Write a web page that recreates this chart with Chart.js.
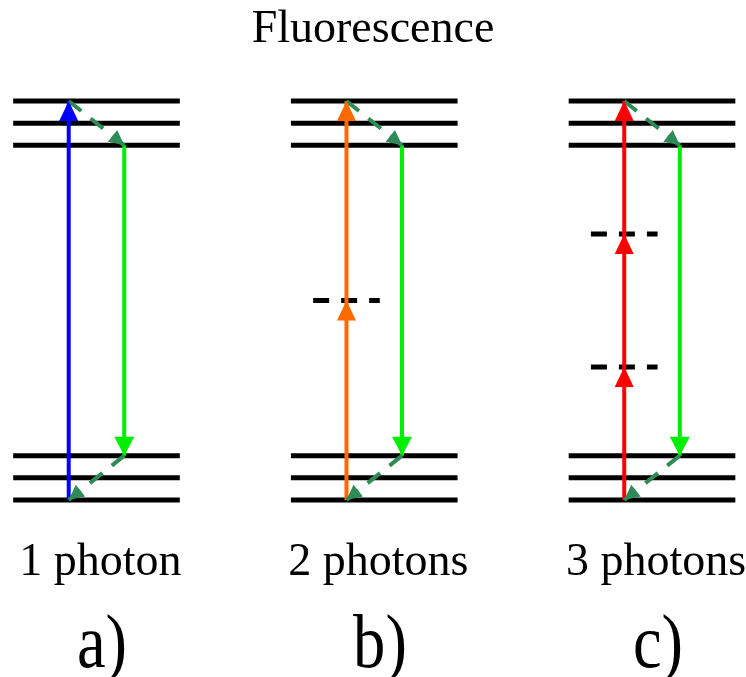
<!DOCTYPE html>
<html>
<head>
<meta charset="utf-8">
<title>Fluorescence</title>
<script src="https://cdn.jsdelivr.net/npm/chart.js@4.4.1/dist/chart.umd.min.js"></script>
<style>
  html, body { margin: 0; padding: 0; background: #fff; overflow: hidden; }
  #wrap { position: relative; width: 746px; height: 677px; overflow: hidden; }
  canvas { display: block; }
  .caption {
    position: absolute;
    margin: 0;
    line-height: 1;
    white-space: nowrap;
    color: #000;
    font-family: "Liberation Serif", serif;
  }
</style>
</head>
<body>
<div id="wrap">
  <canvas id="diagram" width="746" height="677"></canvas>
</div>
<script>
// Energies in units of the vibrational spacing
const heading = 'Fluorescence';
const panelNames = ['a)', 'b)', 'c)'];
const photonLabels = ['1 photon', '2 photons', '3 photons'];
const groundLevels = [0, 1, 2];
const excitedLevels = [16, 17, 18];
const virtualLevels = [[], [9], [6, 12]];
const pumpColors = ['#0000ff', '#ff6a00', '#ff0000'];

// layout along x, in panel units (panel i is centred on x = i)
const levelHalf = 0.3;
const virtualHalf = 0.12;
const pumpOffset = -0.1;
const emitOffset = 0.1;

const topLevel = excitedLevels[excitedLevels.length - 1];
const lowestExcited = excitedLevels[0];
const highestGround = groundLevels[groundLevels.length - 1];
const groundState = groundLevels[0];

function segment(points, color, width, order, extra) {
  return Object.assign({
    data: points,
    showLine: true,
    borderColor: color,
    backgroundColor: color,
    borderWidth: width,
    pointRadius: 0,
    pointHoverRadius: 0,
    tension: 0,
    fill: false,
    order: order
  }, extra || {});
}

const datasets = [];
panelNames.forEach((name, i) => {
  const p = i + pumpOffset;
  const e = i + emitOffset;

  groundLevels.concat(excitedLevels).forEach(E => {
    datasets.push(segment([{ x: i - levelHalf, y: E }, { x: i + levelHalf, y: E }], '#000', 5, 4));
  });
  virtualLevels[i].forEach(E => {
    datasets.push(segment([{ x: p - virtualHalf, y: E }, { x: p + virtualHalf, y: E }], '#000', 5, 3,
      { borderDash: [16, 12] }));
  });

  // absorption: one head per photon
  const pump = [{ x: p, y: groundState }]
    .concat(virtualLevels[i].map(E => ({ x: p, y: E })))
    .concat([{ x: p, y: topLevel }]);
  datasets.push(segment(pump, pumpColors[i], 4, 1, { head: { len: 20, width: 19, every: true } }));

  // emission
  datasets.push(segment([{ x: e, y: lowestExcited }, { x: e, y: highestGround }], '#00ee00', 4, 1,
    { head: { len: 19, width: 20 } }));

  // vibrational relaxation
  datasets.push(segment([{ x: p, y: topLevel }, { x: e, y: lowestExcited }], '#2e8b57', 4, 0,
    { borderDash: [16, 12], head: { len: 15, width: 15 } }));
  datasets.push(segment([{ x: e, y: highestGround }, { x: p, y: groundState }], '#2e8b57', 4, 0,
    { borderDash: [16, 12], head: { len: 15, width: 15 } }));
});

function drawHead(ctx, from, to, len, width, color) {
  const ang = Math.atan2(to.y - from.y, to.x - from.x);
  ctx.save();
  ctx.translate(to.x, to.y);
  ctx.rotate(ang);
  ctx.beginPath();
  ctx.moveTo(0, 0);
  ctx.lineTo(-len, width / 2);
  ctx.lineTo(-len, -width / 2);
  ctx.closePath();
  ctx.fillStyle = color;
  ctx.fill();
  ctx.restore();
}

// heads go on after every line, at the element positions the scales gave
const arrowHeads = {
  id: 'arrowHeads',
  afterDatasetsDraw(chart) {
    const ctx = chart.ctx;
    chart.data.datasets.forEach((ds, di) => {
      if (!ds.head) return;
      const pts = chart.getDatasetMeta(di).data;
      const first = ds.head.every ? 1 : pts.length - 1;
      for (let k = first; k < pts.length; k++) {
        drawHead(ctx, pts[k - 1], pts[k], ds.head.len, ds.head.width, ds.borderColor);
      }
    });
  }
};

const chart = new Chart(document.getElementById('diagram'), {
  type: 'scatter',
  data: { datasets: datasets },
  options: {
    responsive: false,
    devicePixelRatio: 1,
    animation: false,
    events: [],
    layout: { padding: 0 },
    plugins: {
      legend: { display: false },
      tooltip: { enabled: false }
    },
    scales: {
      x: { type: 'linear', min: -0.3474, max: 2.3384, display: false },
      y: { type: 'linear', min: -7.985, max: 22.556, display: false }
    }
  },
  plugins: [arrowHeads]
});

// captions as text over the canvas; baseline sits 0.8375em below the
// top of a line-height:1 box for Liberation Serif
const wrap = document.getElementById('wrap');
function caption(text, size, cx, baseline, squeeze) {
  const el = document.createElement('div');
  el.className = 'caption';
  el.textContent = text;
  el.style.fontSize = size + 'px';
  el.style.left = cx + 'px';
  el.style.top = (baseline - size * 0.8375) + 'px';
  el.style.transform = 'translateX(-50%) scaleX(' + (squeeze || 1) + ')';
  wrap.appendChild(el);
}

const xs = chart.scales.x;
caption(heading, 46, chart.width / 2, 43);
photonLabels.forEach((t, i) => caption(t, 46, xs.getPixelForValue(i) + 4, 576));
panelNames.forEach((t, i) => caption(t, 76, xs.getPixelForValue(i) + 6, 667, 0.85));
</script>
</body>
</html>
